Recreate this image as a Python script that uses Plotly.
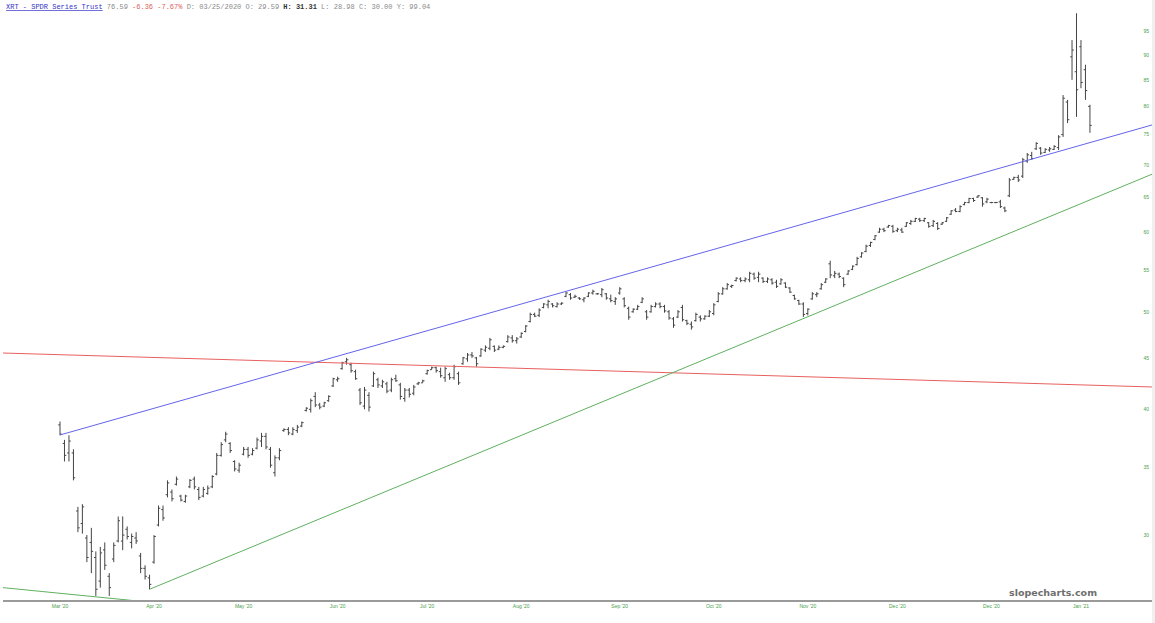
import plotly.graph_objects as go

# ---- OHLC data (XRT daily bars) ----
highs = [38.9,37.3,37.7,36.5,32.0,32.2,30.0,30.5,28.9,29.2,29.5,27.5,29.5,31.3,31.31,30.6,30.1,30.2,28.8,28.0,
         27.4,30.0,32.1,32.1,34.0,33.3,34.3,32.9,32.9,34.1,34.3,33.5,33.5,33.6,34.4,36.2,37.1,38.0,37.1,35.6,
         35.4,36.7,36.7,36.6,37.5,37.9,37.9,36.7,36.0,36.6,38.3,38.4,38.4,38.6,38.9,40.2,41.0,41.6,40.6,40.7,
         41.3,43.0,43.1,44.6,45.0,44.5,43.8,42.0,42.1,41.6,43.6,43.0,42.8,42.6,43.0,43.3,42.5,42.0,42.0,42.3,
         42.6,42.8,43.8,44.1,44.1,44.0,44.1,43.5,44.3,43.6,45.1,45.5,45.6,45.1,46.0,46.3,47.1,46.3,46.3,46.3,
         47.4,47.4,47.2,47.7,48.5,49.9,49.9,50.4,51.0,51.4,51.0,51.1,51.1,52.3,52.2,52.0,51.7,51.7,52.3,52.6,
         52.2,52.8,52.2,52.0,51.7,52.9,51.7,50.6,50.4,50.8,51.7,50.2,50.8,51.1,51.1,50.8,50.2,49.4,50.2,50.8,
         49.1,48.9,49.9,49.6,49.6,50.2,51.0,52.3,52.9,53.4,53.2,54.1,54.1,54.1,54.8,54.7,54.8,54.1,54.1,54.0,
         53.8,54.0,53.5,52.9,52.0,51.4,51.1,50.4,52.3,52.3,53.4,54.0,56.2,54.9,54.7,54.1,55.0,55.6,56.7,57.3,
         58.3,58.7,59.6,60.6,60.6,61.0,61.0,60.6,60.6,61.4,61.7,62.0,62.0,62.0,61.4,61.7,61.4,61.4,62.1,63.1,
         63.4,63.8,64.3,64.9,64.9,65.3,65.0,64.9,64.3,64.3,64.6,63.6,67.9,68.1,68.4,71.1,71.9,72.1,73.7,72.9,
         72.7,72.9,73.2,74.9,82.1,81.2,93.1,99.0,93.1,88.0,80.3]
lows = [37.7,35.5,35.5,34.0,30.2,30.1,28.2,27.5,26.1,26.6,27.7,26.1,28.2,29.5,28.98,29.7,29.1,29.4,27.5,27.1,
        26.5,28.1,30.6,31.0,32.7,32.4,33.6,32.4,32.3,33.4,33.3,32.5,32.7,32.9,33.4,34.4,35.9,37.1,36.2,34.7,
        34.6,36.0,35.8,36.0,36.5,36.7,36.5,35.0,34.3,35.6,38.0,37.7,37.7,37.9,38.4,39.8,39.7,40.2,40.0,40.2,
        40.7,42.1,42.6,43.8,44.3,43.5,42.8,40.4,40.0,39.8,42.1,42.0,42.0,41.5,41.6,42.6,40.9,40.7,41.1,41.3,
        42.3,42.5,43.3,43.8,43.5,43.0,42.6,42.8,42.8,42.3,44.3,44.6,45.0,44.1,45.1,45.6,45.8,45.6,45.8,46.0,
        46.6,46.6,46.5,47.1,47.7,48.8,49.4,49.4,50.4,50.4,50.5,50.5,50.8,51.7,51.4,51.6,51.4,51.1,51.7,52.0,
        52.0,51.7,51.4,51.1,50.8,52.0,50.5,49.1,49.9,50.2,51.0,49.1,49.9,50.5,50.4,49.9,49.1,48.2,49.3,48.9,
        48.5,48.0,48.9,48.9,49.1,49.4,49.6,51.1,52.0,52.6,52.8,53.6,53.5,53.5,53.5,53.8,53.5,53.4,53.4,53.2,
        52.8,53.2,52.8,52.2,51.4,50.8,49.4,49.6,51.4,51.7,52.6,53.4,54.0,54.0,54.0,52.9,54.4,55.0,55.6,56.6,
        57.3,58.0,58.9,59.9,60.0,60.6,59.9,60.0,59.9,60.7,61.0,61.4,61.4,61.4,60.6,60.7,60.3,61.0,61.4,62.4,
        62.8,62.8,63.8,64.1,64.3,64.9,63.6,64.1,64.1,64.1,63.4,62.8,65.0,67.6,67.3,67.9,70.3,70.8,72.4,71.6,
        71.9,72.1,72.4,72.4,74.6,77.0,85.0,78.1,83.4,81.2,75.3]
opens = [38.6,37.0,36.2,36.2,31.7,30.8,29.8,29.5,28.5,27.0,29.0,27.3,28.4,29.6,29.59,30.4,29.5,29.8,28.6,27.8,
         27.2,28.2,30.7,31.8,32.9,33.1,33.7,32.8,32.4,33.5,34.1,33.3,32.8,33.0,33.5,34.5,36.0,37.3,37.0,35.5,
         34.8,36.1,36.5,36.1,36.6,37.2,37.6,36.5,34.6,35.8,38.1,38.2,37.8,38.1,38.5,39.9,40.0,41.2,40.4,40.3,
         40.8,42.2,42.8,43.9,44.6,44.3,43.6,41.8,40.3,41.3,42.2,42.8,42.2,42.4,41.8,42.9,42.3,41.0,41.8,41.5,
         42.4,42.5,43.4,43.8,44.0,43.6,43.0,43.3,43.0,43.4,44.4,44.9,45.3,45.0,45.2,45.8,46.0,46.2,45.9,46.1,
         46.7,47.1,46.8,47.2,47.8,48.9,49.7,49.6,50.5,50.8,50.9,50.6,50.9,51.8,52.0,51.7,51.6,51.4,51.8,52.2,
         52.1,52.0,52.1,51.5,51.2,52.2,51.5,50.4,50.0,50.3,51.1,50.0,50.0,50.6,50.9,50.6,50.0,49.2,49.4,50.5,
         49.0,48.6,49.0,49.4,49.2,49.5,49.8,51.2,52.1,52.7,53.0,53.7,53.9,53.7,53.8,54.5,54.1,54.0,53.6,53.8,
         53.5,53.3,53.4,52.8,51.9,51.3,50.9,49.8,51.5,52.0,52.7,53.5,55.8,54.3,54.5,54.0,54.5,55.1,55.7,56.7,
         57.4,58.2,59.0,60.0,60.4,60.7,60.8,60.2,60.3,60.8,61.2,61.5,61.8,61.6,61.3,60.9,61.2,61.1,61.5,62.5,
         63.1,62.9,63.9,64.2,64.8,65.0,64.9,64.3,64.2,64.2,64.3,63.4,65.2,67.7,68.0,68.2,70.6,71.5,72.6,72.7,
         72.0,72.4,72.5,72.8,75.0,80.8,89.6,86.6,91.7,87.0,80.0]
closes = [37.8,36.0,37.2,34.2,30.5,32.0,28.5,28.9,26.5,28.8,28.0,26.6,29.3,31.0,30.00,29.9,29.9,29.6,27.8,27.3,
          26.8,29.9,31.9,31.2,33.8,32.6,34.1,32.5,32.8,34.0,33.5,32.7,33.3,33.4,34.3,36.0,36.9,37.8,36.4,34.9,
          35.2,36.5,36.0,36.4,37.3,37.6,36.7,35.2,35.8,36.4,38.2,37.9,38.2,38.4,38.8,40.1,40.8,40.4,40.2,40.6,
          41.2,42.9,42.9,44.5,44.8,43.7,42.9,40.6,41.8,40.2,43.4,42.3,42.6,41.7,42.8,42.7,41.2,41.8,41.4,42.1,
          42.5,42.7,43.7,44.0,43.7,43.2,43.9,43.0,44.1,42.5,45.0,45.3,45.2,44.4,45.9,46.1,46.9,45.8,46.1,46.2,
          47.2,46.8,47.0,47.6,48.4,49.7,49.5,50.2,50.9,51.2,50.7,50.9,51.0,52.2,51.6,51.8,51.5,51.6,52.2,52.4,
          52.1,52.6,51.6,51.3,51.5,52.7,50.7,49.4,50.3,50.6,51.5,49.4,50.6,50.9,50.6,50.1,49.3,48.5,50.0,49.1,
          48.7,48.3,49.7,49.2,49.5,50.0,50.8,52.1,52.7,53.2,53.1,54.0,53.7,53.9,54.6,54.0,54.5,53.6,53.9,53.4,
          53.0,53.8,52.9,52.3,51.5,50.9,49.7,50.3,52.1,52.1,53.2,53.9,54.4,54.6,54.2,53.2,54.9,55.5,56.5,57.2,
          58.1,58.6,59.5,60.4,60.2,60.9,60.1,60.4,60.0,61.3,61.5,61.9,61.6,61.9,60.8,61.5,60.5,61.3,62.0,63.0,
          62.9,63.6,64.2,64.8,64.5,65.2,64.0,64.7,64.2,64.2,63.6,63.0,67.6,68.0,67.6,70.8,71.6,71.0,73.5,71.9,
          72.5,72.6,73.0,74.6,81.5,77.6,91.0,83.1,84.5,82.95,76.59]
bar_index = list(range(len(closes)))

# ---- axis labels ----
month_ticks = [0, 21, 41, 62, 82, 103, 125, 146, 167, 187, 208, 228]
month_labels = ["Mar '20", "Apr '20", "May '20", "Jun '20", "Jul '20", "Aug '20",
                "Sep '20", "Oct '20", "Nov '20", "Dec '20", "Dec '20", "Jan '21"]
price_ticks = [30, 35, 40, 45, 50, 55, 60, 65, 70, 75, 80, 85, 90, 95]

# ---- drawn trend lines (bar index, price) ----
x_left, x_right = -12.73, 243.86
blue_x, blue_y = [0, x_right], [37.72, 76.67]
green_x, green_y = [20, x_right], [26.5, 68.5]
green2_x, green2_y = [x_left, 25], [26.6, 25.6]
red_x, red_y = [x_left, x_right], [45.5, 42.1]

fig = go.Figure()
fig.add_trace(go.Scatter(x=red_x, y=red_y, mode="lines",
                         line=dict(color="rgb(232,96,96)", width=1), hoverinfo="skip"))
fig.add_trace(go.Scatter(x=green2_x, y=green2_y, mode="lines",
                         line=dict(color="rgb(96,176,96)", width=1), hoverinfo="skip"))
fig.add_trace(go.Scatter(x=green_x, y=green_y, mode="lines",
                         line=dict(color="rgb(96,176,96)", width=1), hoverinfo="skip"))
fig.add_trace(go.Scatter(x=blue_x, y=blue_y, mode="lines",
                         line=dict(color="rgb(100,100,235)", width=1), hoverinfo="skip"))
fig.add_trace(go.Ohlc(x=bar_index, open=opens, high=highs, low=lows, close=closes,
                      increasing=dict(line=dict(color="#444444", width=1)),
                      decreasing=dict(line=dict(color="#444444", width=1)),
                      tickwidth=0.4))

header = ("<span style='color:#3434c8;text-decoration:underline'>XRT - SPDR Series Trust</span>"
          " <span style='color:#8a8a8a'>76.59</span>"
          " <span style='color:#e06060'>-6.36 -7.67%</span>"
          "<span style='color:#8a8a8a'> D: 03/25/2020 O: 29.59 </span>"
          "<b style='color:#333'>H: 31.31</b>"
          "<span style='color:#8a8a8a'> L: 28.98 C: 30.00 Y: 99.04</span>")

fig.update_layout(
    width=1155, height=623,
    margin=dict(l=3, r=3, t=0, b=23),
    paper_bgcolor="white", plot_bgcolor="white",
    showlegend=False,
    xaxis=dict(range=[x_left, x_right], rangeslider=dict(visible=False),
               tickmode="array", tickvals=month_ticks, ticktext=month_labels,
               tickfont=dict(family="Liberation Sans", size=5, color="#4aa04a"),
               showgrid=False, zeroline=False, showline=True, linecolor="#9a9a9a",
               linewidth=1.5, ticks=""),
    yaxis=dict(type="log", range=[1.4126, 2.0088], side="right",
               ticklabelposition="inside", tickmode="array", tickvals=price_ticks,
               ticktext=[str(v) for v in price_ticks],
               tickfont=dict(family="Liberation Sans", size=5, color="#4aa04a"),
               showgrid=False, zeroline=False, showline=False, ticks=""),
    annotations=[
        dict(text=header, xref="paper", yref="paper", x=0, y=1, xanchor="left", yanchor="top",
             xshift=1, yshift=-1, showarrow=False,
             font=dict(family="Liberation Mono", size=7, color="#8a8a8a")),
        dict(text="<b>slopecharts.com</b>", xref="paper", yref="paper", x=0.9140, y=0.0117,
             xanchor="center", yanchor="middle", showarrow=False,
             font=dict(family="DejaVu Sans", size=9.5, color="#6e6e6e")),
    ],
    shapes=[
        dict(type="rect", xref="paper", yref="paper", x0=1.0, x1=1.01, y0=-0.1, y1=1.1,
             fillcolor="#f0f0f0", line=dict(width=0), layer="above"),
    ],
)

fig.write_html("out.html", config={"displayModeBar": False},
               post_script="document.body.style.margin='0';document.body.style.overflow='hidden';")
